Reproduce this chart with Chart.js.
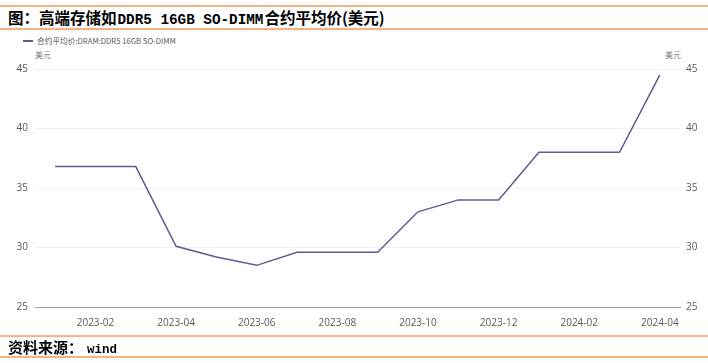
<!DOCTYPE html>
<html>
<head>
<meta charset="utf-8">
<script src="https://cdn.jsdelivr.net/npm/chart.js@4.4.1/dist/chart.umd.min.js"></script>
<style>
  html, body { margin: 0; padding: 0; background: #ffffff; }
  #wrap { position: relative; width: 708px; height: 363px; overflow: hidden; font-family: "Noto Sans CJK SC", "Noto Sans", sans-serif; }
  #chart { position: absolute; left: 0; top: 0; }
  .hline { position: absolute; left: 0; width: 708px; height: 2px; background: #f4b183; }
  #title { position: absolute; left: 8px; top: 6px; height: 22px; line-height: 22px; font-size: 15.5px; font-weight: 700; color: #000; white-space: nowrap; }
  .mono { font-family: "Liberation Mono", "DejaVu Sans Mono", monospace; font-weight: 700; }
  #title .mono { font-size: 14.3px; margin: 0 1px; }
  #source { position: absolute; left: 8px; top: 337px; height: 19px; line-height: 19px; font-size: 15px; font-weight: 700; color: #000; white-space: nowrap; }
  #source .mono { font-size: 12.5px; margin-left: 4px; }
  #legend { position: absolute; left: 23px; top: 35px; height: 12px; line-height: 12px; font-size: 7.7px; color: #595959; white-space: nowrap; }
  #legend .mark { display: inline-block; width: 10px; height: 2px; vertical-align: middle; margin-right: 4px; position: relative; top: -1px; }
  .unit { position: absolute; top: 49px; font-size: 8px; line-height: 12px; color: #7f7f7f; }
</style>
</head>
<body>
<div id="wrap">
  <div class="hline" style="top:5px"></div>
  <div id="title"></div>
  <div class="hline" style="top:28px"></div>
  <div id="legend"><span class="mark"></span><span id="legendText"></span></div>
  <div class="unit" id="unitL" style="left:35px"></div>
  <div class="unit" id="unitR" style="left:665px"></div>
  <canvas id="chart" width="708" height="363"></canvas>
  <div class="hline" style="top:335px"></div>
  <div id="source"></div>
  <div class="hline" style="top:356px"></div>
</div>
<script>
// ---- Data ----
const titleParts = ["图：高端存储如", "DDR5 16GB SO-DIMM", "合约平均价(美元)"];
const sourceParts = ["资料来源：", "wind"];
const seriesName = "合约平均价:DRAM:DDR5 16GB SO-DIMM";
const unitLabel = "美元";
const months = ["2023-01","2023-02","2023-03","2023-04","2023-05","2023-06","2023-07","2023-08",
                "2023-09","2023-10","2023-11","2023-12","2024-01","2024-02","2024-03","2024-04"];
const prices = [36.8, 36.8, 36.8, 30.1, 29.2, 28.5, 29.6, 29.6,
                29.6, 33.0, 34.0, 34.0, 38.0, 38.0, 38.0, 44.5];
const yMin = 25, yMax = 45, yStep = 5;
const lineColor = "#5b5c9a";

// ---- Text ----
document.getElementById("title").innerHTML =
  titleParts[0] + '<span class="mono">' + titleParts[1] + '</span>' + titleParts[2];
document.getElementById("source").innerHTML =
  sourceParts[0] + '<span class="mono">' + sourceParts[1] + '</span>';
document.getElementById("legendText").textContent = seriesName;
document.querySelector("#legend .mark").style.background = lineColor;
document.getElementById("unitL").textContent = unitLabel;
document.getElementById("unitR").textContent = unitLabel;

// ---- Chart ----
const tickFont = { family: "'Open Sans', 'Noto Sans', sans-serif", size: 10 };
new Chart(document.getElementById("chart"), {
  type: "line",
  data: {
    labels: months,
    datasets: [{
      label: seriesName,
      data: prices,
      borderColor: lineColor,
      backgroundColor: lineColor,
      borderWidth: 1.5,
      pointRadius: 0,
      tension: 0,
      yAxisID: "y"
    }]
  },
  options: {
    responsive: false,
    animation: false,
    layout: { padding: { left: 0, right: 0, top: 69, bottom: 36 } },
    plugins: { legend: { display: false }, tooltip: { enabled: false } },
    scales: {
      x: {
        offset: true,
        grid: { display: false },
        border: { display: true, color: "#a6a6a6", width: 1 },
        ticks: {
          autoSkip: false, maxRotation: 0, minRotation: 0, padding: 2,
          color: "#595959", font: tickFont,
          callback: function(v, i) { return i % 2 === 1 ? this.getLabelForValue(v) : ""; }
        },
        afterFit: s => { s.height = 20; }
      },
      y: {
        position: "left",
        min: yMin, max: yMax,
        grid: { color: "#f0f0f0", drawTicks: false },
        border: { display: false },
        ticks: { stepSize: yStep, padding: 7, color: "#595959", font: tickFont },
        afterFit: s => { s.width = 35; }
      },
      y2: {
        position: "right",
        min: yMin, max: yMax,
        grid: { display: false, drawTicks: false },
        border: { display: false },
        ticks: { stepSize: yStep, padding: 6, color: "#595959", font: tickFont },
        afterFit: s => { s.width = 28; }
      }
    }
  }
});
</script>
</body>
</html>
